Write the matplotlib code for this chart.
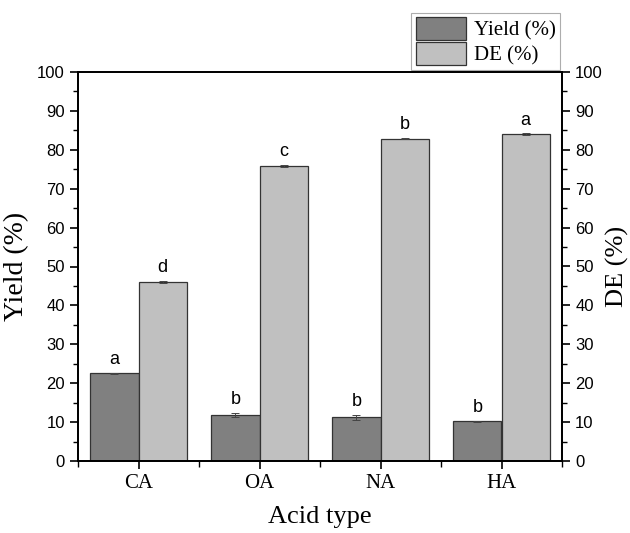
import matplotlib
matplotlib.use("Agg")
import matplotlib.pyplot as plt
import numpy as np
from matplotlib.ticker import MultipleLocator

categories = ["CA", "OA", "NA", "HA"]
yield_vals = [22.5, 11.9, 11.2, 10.2]
yield_err = [0.2, 0.5, 0.7, 0.2]
de_vals = [46.0, 75.9, 82.9, 84.0]
de_err = [0.3, 0.2, 0.2, 0.2]
yield_letters = ["a", "b", "b", "b"]
de_letters = ["d", "c", "b", "a"]

fig = plt.figure(figsize=(6.3, 5.33), dpi=100)
ax = fig.add_axes([78/630, 1-461/533, 484/630, 389/533])
ax2 = ax.twinx()

x = np.arange(len(categories))
w = 0.4
ax.bar(x - w/2, yield_vals, w, color="#808080", edgecolor="#333333", linewidth=0.9,
       yerr=yield_err, ecolor="#444444", capsize=3, error_kw=dict(elinewidth=0.7, capthick=0.7),
       label="Yield (%)")
ax.bar(x + w/2, de_vals, w, color="#c0c0c0", edgecolor="#333333", linewidth=0.9,
       yerr=de_err, ecolor="#444444", capsize=3, error_kw=dict(elinewidth=0.7, capthick=0.7),
       label="DE (%)")

for i in range(len(categories)):
    ax.text(x[i] - w/2, yield_vals[i] + yield_err[i] + 1.2, yield_letters[i], ha="center", va="bottom",
            fontsize=13, family="Liberation Sans")
    ax.text(x[i] + w/2, de_vals[i] + de_err[i] + 1.2, de_letters[i], ha="center", va="bottom",
            fontsize=13, family="Liberation Sans")

ax.set_xlim(-0.5, 3.5)
ax.set_ylim(0, 100)
ax2.set_ylim(0, 100)
ax.set_xticks(x)
ax.set_xticklabels(categories, family="Liberation Serif", fontsize=15)
ax.xaxis.set_minor_locator(MultipleLocator(0.5))
for a in (ax, ax2):
    a.yaxis.set_major_locator(MultipleLocator(10))
    a.yaxis.set_minor_locator(MultipleLocator(5))
    for lab in a.get_yticklabels():
        lab.set_family("Liberation Sans")
        lab.set_fontsize(12)
    for s in a.spines.values():
        s.set_linewidth(1.3)
ax.tick_params(axis="both", which="major", direction="out", length=6, width=1.2)
ax.tick_params(axis="both", which="minor", direction="out", length=3.5, width=1.0)
ax2.tick_params(axis="y", which="major", direction="out", length=6, width=1.2)
ax2.tick_params(axis="y", which="minor", direction="out", length=3.5, width=1.0)
ax.tick_params(axis="x", which="minor", length=4)

ax.set_ylabel("Yield (%)", family="Liberation Serif", fontsize=20, labelpad=6)
ax2.set_ylabel("DE (%)", family="Liberation Serif", fontsize=19, labelpad=2)
ax.set_xlabel("Acid type", family="Liberation Serif", fontsize=19, labelpad=9)

leg = ax.legend(loc="lower right", bbox_to_anchor=(1.0, 1.0), frameon=True, fancybox=False,
                prop=dict(family="Liberation Serif", size=15), handlelength=2.4, handleheight=1.3,
                borderpad=0.2, labelspacing=0.1, handletextpad=0.4, borderaxespad=0.1)
leg.get_frame().set_edgecolor("#999999")
leg.get_frame().set_linewidth(0.8)

fig.savefig("out.png", dpi=100)
